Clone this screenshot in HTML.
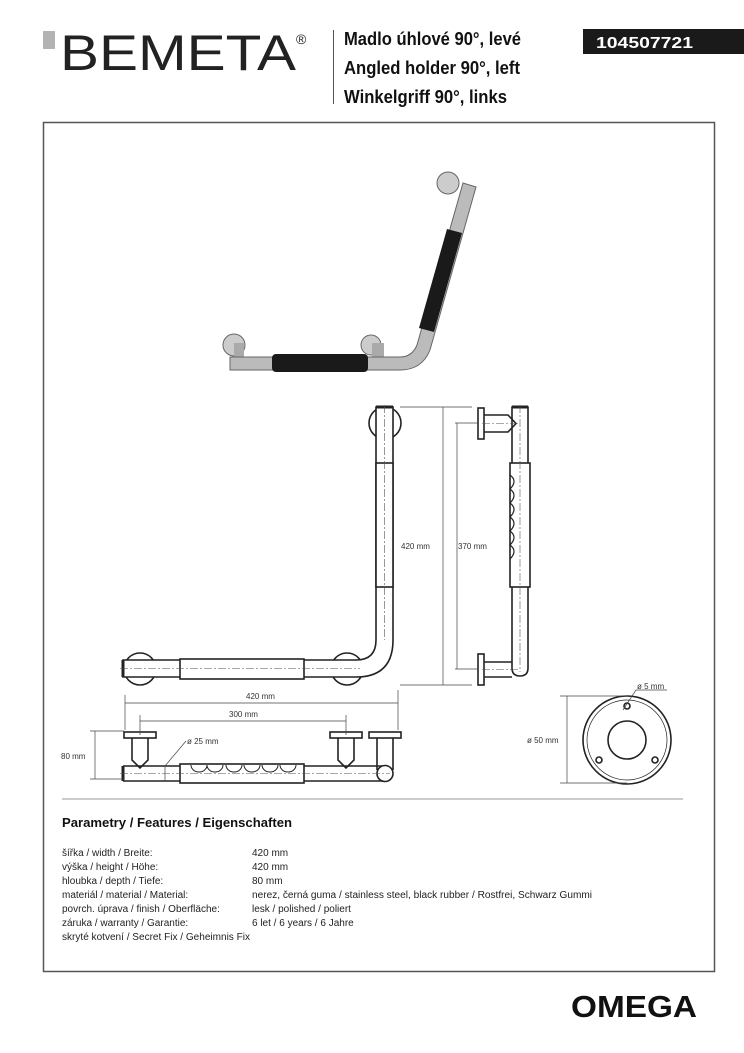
<!DOCTYPE html>
<html><head><meta charset="utf-8"><style>
html,body{margin:0;padding:0;background:#fff;}
svg{display:block;}
.t{font-family:"Liberation Sans",sans-serif;}
</style></head><body>
<svg width="744" height="1053" viewBox="0 0 744 1053" xmlns="http://www.w3.org/2000/svg">
<!-- header -->
<rect x="43" y="31" width="12" height="18" fill="#b3b3b3"/>
<text x="60" y="70" class="t" font-size="50" fill="#222" textLength="236" lengthAdjust="spacingAndGlyphs">BEMETA</text>
<text x="296" y="44" class="t" font-size="14" fill="#222">®</text>
<line x1="333.5" y1="30" x2="333.5" y2="104" stroke="#555" stroke-width="1"/>
<g class="t" font-weight="bold" font-size="18" fill="#111">
<text x="344" y="45" textLength="177" lengthAdjust="spacingAndGlyphs">Madlo úhlové 90°, levé</text>
<text x="344" y="74" textLength="176" lengthAdjust="spacingAndGlyphs">Angled holder 90°, left</text>
<text x="344" y="103" textLength="163" lengthAdjust="spacingAndGlyphs">Winkelgriff 90°, links</text>
</g>
<rect x="583" y="29" width="161" height="25" fill="#1a1a1a"/>
<text x="596" y="48" class="t" font-weight="bold" font-size="16" fill="#fff" textLength="97" lengthAdjust="spacingAndGlyphs">104507721</text>
<!-- frame -->
<rect x="43.5" y="122.5" width="671" height="849" fill="none" stroke="#555" stroke-width="1.5"/>
<line x1="62" y1="799" x2="683" y2="799" stroke="#ccc" stroke-width="2"/>

<!-- photo -->
<g>
<circle cx="234" cy="345" r="11" fill="#ccc" stroke="#666"/>
<rect x="234" y="343" width="10" height="14" fill="#aaa"/>
<circle cx="371" cy="345" r="10" fill="#ccc" stroke="#666"/>
<rect x="372" y="343" width="12" height="14" fill="#aaa"/>
<circle cx="448" cy="183" r="11" fill="#ccc" stroke="#666"/>
<path d="M230 357 L400 357 Q412 357 417 345 L463 183 L476 187 L430 350 Q422 370 400 370 L230 370 Z" fill="#bbb" stroke="#666"/>
<rect x="272" y="354" width="96" height="18" rx="4" fill="#1a1a1a"/>
<path d="M419 328 L447 229 L462 233 L434 332 Z" fill="#1a1a1a"/>
</g>

<g fill="none" stroke="#222" stroke-width="1.6">
<!-- front view -->
<circle cx="385" cy="423" r="16"/>
<circle cx="140" cy="669" r="16"/>
<circle cx="347" cy="669" r="16"/>
<path d="M376 407 L376 640 Q376 660 356 660 L123 660 L123 677 L356 677 Q393 677 393 640 L393 407 Z" fill="#fff"/>
<rect x="376" y="463" width="17" height="124" fill="#fff"/>
<rect x="180" y="659" width="124" height="20" fill="#fff"/>
<line x1="376" y1="407" x2="393" y2="407" stroke-width="3"/>
<line x1="123" y1="660" x2="123" y2="677" stroke-width="3"/>
<!-- side view -->
<rect x="478" y="408" width="6" height="31" fill="#fff"/>
<path d="M484 415 L508 415 L516 423.5 L508 432 L484 432"/>
<rect x="478" y="654" width="6" height="31" fill="#fff"/>
<path d="M484 662 L512 662 M484 677 L512 677"/>
<path d="M512 407 L512 668 Q512 676 520 676 Q528 676 528 668 L528 407 Z" fill="none"/>
<rect x="510" y="463" width="20" height="124" fill="#fff"/>
<path d="M510 475 q8 6 0 14 q8 6 0 14 q8 6 0 14 q8 6 0 14 q8 6 0 14 q8 6 0 14" stroke-width="1.2"/>
<line x1="512" y1="407" x2="528" y2="407" stroke-width="3"/>
<!-- base plate -->
<circle cx="627" cy="740" r="44"/>
<circle cx="627" cy="740" r="40" stroke-width="0.7"/>
<circle cx="627" cy="740" r="19"/>
<circle cx="627" cy="706" r="3"/>
<circle cx="599" cy="760" r="3"/>
<circle cx="655" cy="760" r="3"/>
<!-- bottom view -->
<rect x="124" y="732" width="32" height="6" fill="#fff"/>
<path d="M132 738 L132 760 L140 768 L148 760 L148 738"/>
<rect x="330" y="732" width="32" height="6" fill="#fff"/>
<path d="M338 738 L338 760 L346 768 L354 760 L354 738"/>
<rect x="369" y="732" width="32" height="6" fill="#fff"/>
<path d="M377 738 L377 770 M393 738 L393 770"/>
<path d="M123 766 L385 766 M123 781 L385 781"/>
<line x1="123" y1="766" x2="123" y2="781" stroke-width="3"/>
<circle cx="385" cy="773.5" r="8" fill="#fff"/>
<rect x="180" y="764" width="124" height="19" fill="#fff"/>
<path d="M191 765 a8 7 0 0 0 16 0 a8 7 0 0 0 16 0 M226 765 a8 7 0 0 0 16 0 M244 765 a8 7 0 0 0 16 0 M262 765 a8 7 0 0 0 16 0 M280 765 a8 7 0 0 0 16 0" stroke-width="1"/>
</g>
<!-- center lines -->
<g stroke="#555" stroke-width="0.6" stroke-dasharray="8 2 2 2" fill="none">
<line x1="384.5" y1="405" x2="384.5" y2="640"/>
<line x1="120" y1="668.5" x2="360" y2="668.5"/>
<line x1="520" y1="405" x2="520" y2="672"/>
<line x1="482" y1="423.5" x2="520" y2="423.5"/>
<line x1="482" y1="669.5" x2="520" y2="669.5"/>
<line x1="120" y1="773.5" x2="390" y2="773.5"/>
</g>
<!-- dimensions -->
<g stroke="#444" stroke-width="0.7" fill="none">
<line x1="400" y1="407" x2="472" y2="407"/>
<line x1="400" y1="685" x2="472" y2="685"/>
<line x1="443" y1="407" x2="443" y2="685"/>
<line x1="455" y1="423" x2="478" y2="423"/>
<line x1="455" y1="669" x2="478" y2="669"/>
<line x1="457" y1="423" x2="457" y2="669"/>
<line x1="125" y1="695" x2="125" y2="730"/>
<line x1="398" y1="690" x2="398" y2="730"/>
<line x1="125" y1="703" x2="398" y2="703"/>
<line x1="140" y1="715" x2="140" y2="735"/>
<line x1="346" y1="715" x2="346" y2="735"/>
<line x1="140" y1="721" x2="346" y2="721"/>
<line x1="90" y1="731" x2="124" y2="731"/>
<line x1="90" y1="779" x2="124" y2="779"/>
<line x1="95" y1="731" x2="95" y2="779"/>
<line x1="165" y1="766" x2="165" y2="781"/>
<line x1="165" y1="766" x2="186" y2="741"/>
<line x1="560" y1="696" x2="627" y2="696"/>
<line x1="560" y1="783" x2="627" y2="783"/>
<line x1="567" y1="696" x2="567" y2="783"/>
<line x1="623" y1="710" x2="636" y2="690"/>
<line x1="636" y1="690" x2="667" y2="690"/>
</g>
<g class="t" font-size="8" fill="#333">
<text x="401" y="549">420 mm</text>
<text x="458" y="549">370 mm</text>
<text x="246" y="699">420 mm</text>
<text x="229" y="717">300 mm</text>
<text x="61" y="759">80 mm</text>
<text x="187" y="744">ø 25 mm</text>
<text x="527" y="743">ø 50 mm</text>
<text x="637" y="689">ø 5 mm</text>
</g>
<!-- features -->
<text x="62" y="827" class="t" font-weight="bold" font-size="12.5" fill="#111" textLength="230" lengthAdjust="spacingAndGlyphs">Parametry / Features / Eigenschaften</text>
<g class="t" font-size="10" fill="#222">
<text x="62" y="856">šířka / width / Breite:</text><text x="252" y="856">420 mm</text>
<text x="62" y="870">výška / height / Höhe:</text><text x="252" y="870">420 mm</text>
<text x="62" y="884">hloubka / depth / Tiefe:</text><text x="252" y="884">80 mm</text>
<text x="62" y="898">materiál / material / Material:</text><text x="252" y="898" textLength="340" lengthAdjust="spacingAndGlyphs">nerez, černá guma / stainless steel, black rubber / Rostfrei, Schwarz Gummi</text>
<text x="62" y="912">povrch. úprava / finish / Oberfläche:</text><text x="252" y="912">lesk / polished / poliert</text>
<text x="62" y="926">záruka / warranty / Garantie:</text><text x="252" y="926">6 let / 6 years / 6 Jahre</text>
<text x="62" y="940" textLength="188" lengthAdjust="spacingAndGlyphs">skryté kotvení / Secret Fix / Geheimnis Fix</text>
</g>
<text x="697" y="1017" text-anchor="end" class="t" font-weight="bold" font-size="31" fill="#111" textLength="126" lengthAdjust="spacingAndGlyphs">OMEGA</text>
</svg>
</body></html>
